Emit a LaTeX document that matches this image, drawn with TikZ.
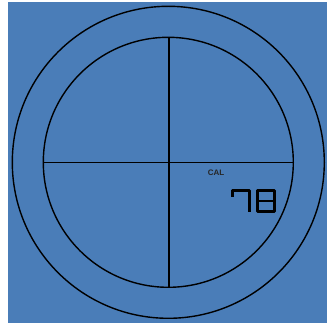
\documentclass[tikz,border=0pt]{standalone}
\usepackage{fontspec}
\setmainfont{Liberation Sans}
\definecolor{lcdblue}{RGB}{74,125,184}
\tikzset{ring/.style={draw=black,line width=1.4pt},
  seg/.style={draw=black,line width=2.8pt,line join=round,line cap=butt}}
\begin{document}
\begin{tikzpicture}[x=1pt,y=-1pt]
\useasboundingbox (0,0) rectangle (327,323);
\fill[white] (0,0) rectangle (327,323);
\fill[lcdblue] (8,2) rectangle (327,323);
\coordinate (c) at (168.3,162.3);
\draw[ring] (c) circle[radius=156];
\draw[ring] (c) circle[radius=125];
\coordinate (t) at (169,37.3);
\coordinate (b) at (169,287.3);
\coordinate (l) at (43.3,162.3);
\coordinate (r) at (293.3,162.3);
\draw[ring] (t) -- (b);
\draw[ring] (l) -- (r);
\node[font=\bfseries\fontsize{8}{9}\selectfont,text=black!85,inner sep=0pt] (cal) at (216,173) {CAL};
% digit 7
\draw[seg] (232.5,197) -- (232.5,190.3) -- (249.3,190.3) -- (249.3,212.5);
% digit 8
\draw[seg] (257.5,190.3) rectangle (274.3,211.7);
\draw[seg] (257.5,201) -- (274.3,201);
\end{tikzpicture}
\end{document}
